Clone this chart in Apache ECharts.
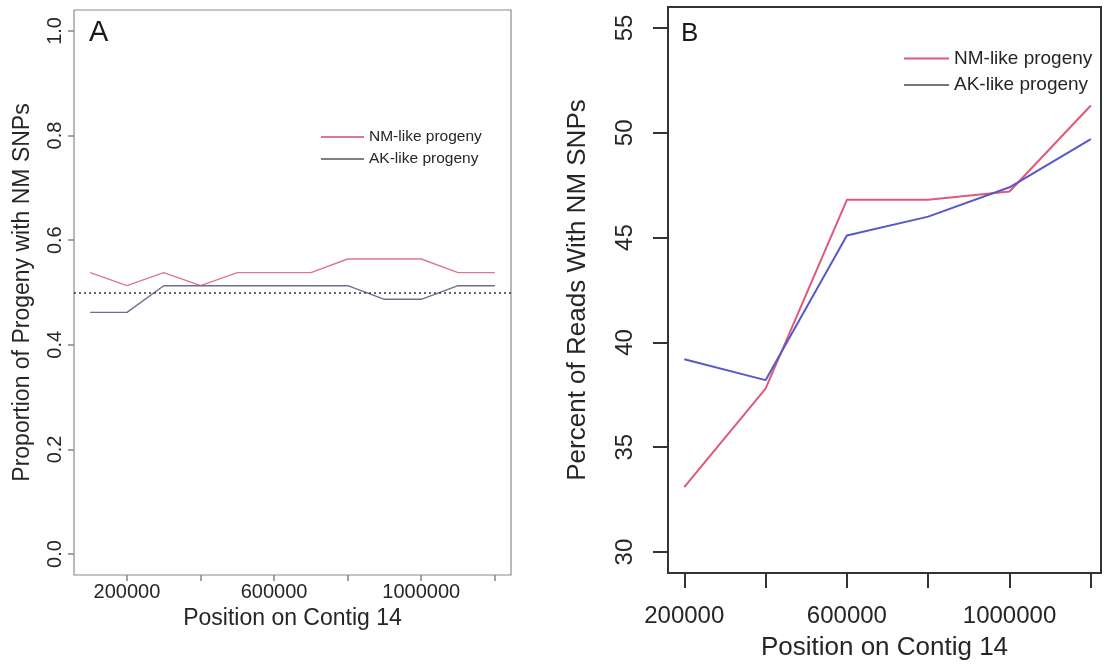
<!DOCTYPE html>
<html>
<head>
<meta charset="utf-8">
<title>NM SNPs along Contig 14</title>
<script src="https://cdn.jsdelivr.net/npm/echarts@6/dist/echarts.min.js"></script>
<style>
  html, body { margin: 0; padding: 0; background: #ffffff; }
  #chart { width: 1104px; height: 664px; }
</style>
</head>
<body>
<div id="chart"></div>
<script>
// Panel A: proportion of progeny carrying NM SNPs, 100 kb windows
const positionsA = [100000, 200000, 300000, 400000, 500000, 600000, 700000, 800000, 900000, 1000000, 1100000, 1200000];
const nmProgenyA = [0.538, 0.513, 0.538, 0.513, 0.538, 0.538, 0.538, 0.564, 0.564, 0.564, 0.538, 0.538];
const akProgenyA = [0.462, 0.462, 0.513, 0.513, 0.513, 0.513, 0.513, 0.513, 0.487, 0.487, 0.513, 0.513];
const referenceLevel = 0.5;

// Panel B: percent of reads carrying NM SNPs, 200 kb windows
const positionsB = [200000, 400000, 600000, 800000, 1000000, 1200000];
const nmReadsB = [33.1, 37.8, 46.8, 46.8, 47.2, 51.3];
const akReadsB = [39.2, 38.2, 45.1, 46.0, 47.4, 49.7];

// Axis ticks and labels
const xTicks = [200000, 400000, 600000, 800000, 1000000, 1200000];
const xLabels = [200000, 600000, 1000000];
const yTicksA = [0, 0.2, 0.4, 0.6, 0.8, 1.0];
const yTicksB = [30, 35, 40, 45, 50, 55];

const seriesNames = ['NM-like progeny', 'AK-like progeny'];

const FONT = 'Liberation Sans, Arial, Helvetica, sans-serif';
const TEXT = '#262626';

const pairs = (xs, ys) => xs.map((x, i) => [x, ys[i]]);

const chart = echarts.init(document.getElementById('chart'), null, { renderer: 'canvas' });

const option = {
  backgroundColor: '#ffffff',
  animation: false,
  textStyle: { fontFamily: FONT, color: TEXT },
  grid: [
    { left: 74, top: 10, width: 437, height: 565, show: true, borderColor: '#8c8c8c', borderWidth: 1.2, backgroundColor: 'transparent', containLabel: false, outerBoundsMode: 'none' },
    { left: 668, top: 7, width: 433, height: 566, show: true, borderColor: '#333333', borderWidth: 2, backgroundColor: 'transparent', containLabel: false, outerBoundsMode: 'none' }
  ],
  xAxis: [
    {
      type: 'value', gridIndex: 0, position: 'bottom', min: 56000, max: 1244000,
      axisLine: { show: false, onZero: false }, splitLine: { show: false },
      axisTick: { show: true, length: 6, customValues: xTicks, lineStyle: { color: '#858585', width: 1.5 } },
      axisLabel: { customValues: xLabels, formatter: v => String(v), fontSize: 20, lineHeight: 14, color: TEXT, margin: 10, fontFamily: FONT },
      name: 'Position on Contig 14', nameLocation: 'middle', nameGap: 30,
      nameTextStyle: { fontSize: 23, color: TEXT, fontFamily: FONT }
    },
    {
      type: 'value', gridIndex: 1, position: 'bottom', min: 160000, max: 1225000,
      axisLine: { show: false, onZero: false }, splitLine: { show: false },
      axisTick: { show: true, length: 15, customValues: xTicks, lineStyle: { color: '#333333', width: 2 } },
      axisLabel: { customValues: xLabels, formatter: v => String(v), fontSize: 24, color: TEXT, margin: 31, fontFamily: FONT },
      name: 'Position on Contig 14', nameLocation: 'middle', nameGap: 62,
      nameTextStyle: { fontSize: 26, color: TEXT, fontFamily: FONT }
    }
  ],
  yAxis: [
    {
      type: 'value', gridIndex: 0, min: -0.04, max: 1.04,
      axisLine: { show: false, onZero: false }, splitLine: { show: false },
      axisTick: { show: true, length: 6, customValues: yTicksA, lineStyle: { color: '#858585', width: 1.5 } },
      axisLabel: { customValues: yTicksA, rotate: 90, formatter: v => v.toFixed(1), fontSize: 20, color: TEXT, margin: 9, fontFamily: FONT },
      name: 'Proportion of Progeny with NM SNPs', nameLocation: 'middle', nameGap: 40,
      nameTextStyle: { fontSize: 23, color: TEXT, fontFamily: FONT }
    },
    {
      type: 'value', gridIndex: 1, min: 29, max: 56,
      axisLine: { show: false, onZero: false }, splitLine: { show: false },
      axisTick: { show: true, length: 15, customValues: yTicksB, lineStyle: { color: '#333333', width: 2 } },
      axisLabel: { customValues: yTicksB, rotate: 90, formatter: v => String(v), fontSize: 24, color: TEXT, margin: 31, fontFamily: FONT },
      name: 'Percent of Reads With NM SNPs', nameLocation: 'middle', nameGap: 77,
      nameTextStyle: { fontSize: 26, color: TEXT, fontFamily: FONT }
    }
  ],
  legend: [
    {
      left: 316, top: 124, orient: 'vertical', icon: 'rect',
      itemWidth: 43, itemHeight: 2, itemGap: 6,
      selectedMode: false,
      textStyle: { fontSize: 15.5, lineHeight: 16, color: TEXT, fontFamily: FONT },
      data: [
        { name: seriesNames[0], itemStyle: { color: '#d9788f' } },
        { name: seriesNames[1], itemStyle: { color: '#808080' } }
      ]
    },
    {
      left: 899, top: 44, orient: 'vertical', icon: 'rect',
      itemWidth: 45, itemHeight: 2, itemGap: 7.5,
      selectedMode: false,
      textStyle: { fontSize: 19, lineHeight: 19, color: TEXT, fontFamily: FONT },
      data: [
        { name: seriesNames[0], itemStyle: { color: '#e0587a' } },
        { name: seriesNames[1], itemStyle: { color: '#777777' } }
      ]
    }
  ],
  graphic: [
    { type: 'text', left: 89, top: 18, style: { text: 'A', fontSize: 29, fill: '#1a1a1a', fontFamily: FONT } },
    { type: 'text', left: 681, top: 21, style: { text: 'B', fontSize: 26, fill: '#1a1a1a', fontFamily: FONT } }
  ],
  series: [
    {
      name: seriesNames[0], type: 'line', xAxisIndex: 0, yAxisIndex: 0,
      data: pairs(positionsA, nmProgenyA), showSymbol: false,
      lineStyle: { color: '#d9788f', width: 1.4 }, itemStyle: { color: '#d9788f' }
    },
    {
      name: seriesNames[1], type: 'line', xAxisIndex: 0, yAxisIndex: 0,
      data: pairs(positionsA, akProgenyA), showSymbol: false,
      lineStyle: { color: '#6e6e8c', width: 1.4 }, itemStyle: { color: '#6e6e8c' },
      markLine: {
        silent: true, symbol: ['none', 'none'], label: { show: false },
        lineStyle: { color: '#333333', type: [2, 3], width: 1.5 },
        data: [{ yAxis: referenceLevel }]
      }
    },
    {
      name: seriesNames[0], type: 'line', xAxisIndex: 1, yAxisIndex: 1,
      data: pairs(positionsB, nmReadsB), showSymbol: false,
      lineStyle: { color: '#e0587a', width: 2 }, itemStyle: { color: '#e0587a' }
    },
    {
      name: seriesNames[1], type: 'line', xAxisIndex: 1, yAxisIndex: 1,
      data: pairs(positionsB, akReadsB), showSymbol: false,
      lineStyle: { color: '#5858c8', width: 2 }, itemStyle: { color: '#5858c8' }
    }
  ]
};

chart.setOption(option);
</script>
</body>
</html>
